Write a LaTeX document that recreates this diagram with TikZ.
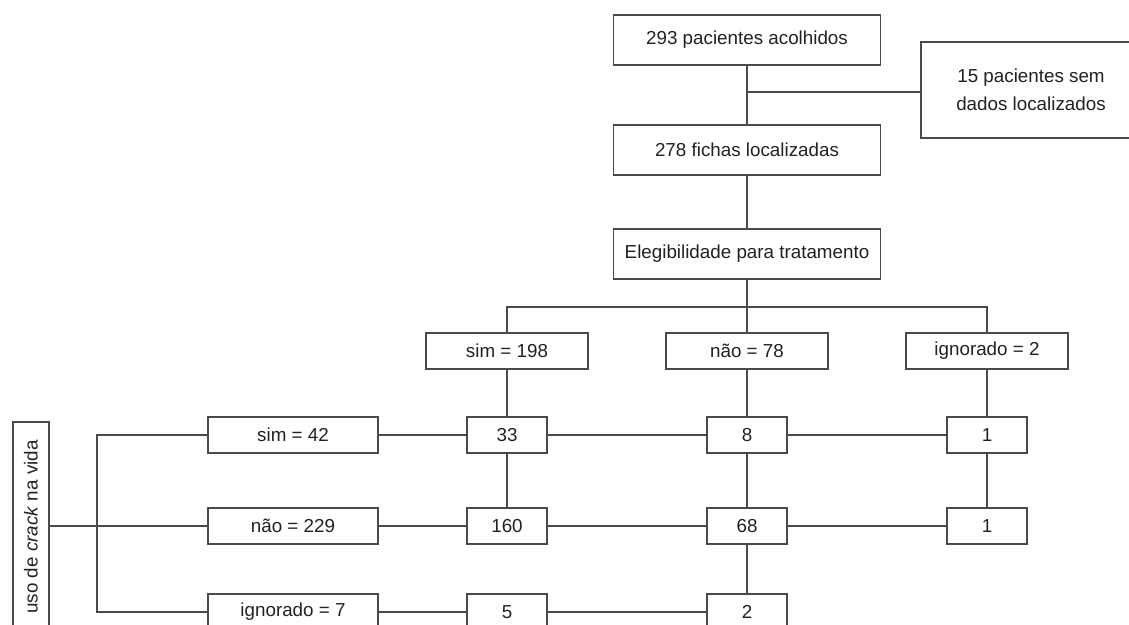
\documentclass[tikz,border=0pt]{standalone}
\usepackage{fontspec}
\setmainfont{Liberation Sans}
\usepackage{tikz}
\usetikzlibrary{positioning, calc}
\definecolor{LineGray}{HTML}{4A4A4A}
\definecolor{TextGray}{HTML}{222222}

\tikzset{
  flowbox/.style={draw=LineGray, line width=0.55pt, fill=white, inner sep=0pt,
                  text=TextGray, font=\fontsize{9.4}{11.5}\selectfont, align=center},
  mainbox/.style={flowbox, minimum width=133.5pt, minimum height=25pt},
  catbox/.style={flowbox, minimum width=81pt, minimum height=18pt},
  rowbox/.style={flowbox, minimum width=85pt, minimum height=18pt},
  numbox/.style={flowbox, minimum width=40pt, minimum height=18pt},
  link/.style={draw=LineGray, line width=0.55pt}
}

\begin{document}
\begin{tikzpicture}[x=0.5pt, y=-0.5pt]
    \useasboundingbox (0,0) rectangle (1129,625);
    \clip (0,0) rectangle (1129,625);

    % Top of the flow
    \node[mainbox] (acolhidos) at (747,40) {293 pacientes acolhidos};
    \node[flowbox, minimum width=110pt, minimum height=48pt,
          font=\fontsize{9.4}{14}\selectfont] (semdados) at (1031,90)
        {15 pacientes sem\\dados localizados};
    \node[mainbox] (fichas) at (747,150) {278 fichas localizadas};
    \node[mainbox] (elegib) at (747,254) {Elegibilidade para tratamento};

    % Eligibility categories
    \node[catbox] (elsim) at (507,351) {sim = 198};
    \node[catbox] (elnao) at (747,351) {não = 78};
    \node[catbox] (elign) at (987,351) {ignorado = 2};

    % Crack use categories
    \node[flowbox, minimum width=18pt, minimum height=105pt] (crack) at (31,527)
        {\rotatebox{90}{uso de \textit{crack} na vida}};
    \node[rowbox] (crsim) at (293,435) {sim = 42};
    \node[rowbox] (crnao) at (293,526) {não = 229};
    \node[rowbox] (crign) at (293,612) {ignorado = 7};

    % Cross counts
    \node[numbox] (simsim) at (507,435) {33};
    \node[numbox] (naosim) at (747,435) {8};
    \node[numbox] (ignsim) at (987,435) {1};
    \node[numbox] (simnao) at (507,526) {160};
    \node[numbox] (naonao) at (747,526) {68};
    \node[numbox] (ignnao) at (987,526) {1};
    \node[numbox] (simign) at (507,612) {5};
    \node[numbox] (naoign) at (747,612) {2};

    % Connectors, top part
    \draw[link] (acolhidos) -- (fichas) -- (elegib);
    \coordinate (exclui) at (747,92);
    \draw[link] (exclui) -- (exclui -| semdados.west);
    \coordinate (split) at (747,307);
    \draw[link] (elegib) -- (elnao);
    \draw[link] (elsim.north) |- (split) -| (elign.north);

    % Connectors, left part
    \coordinate (bartop) at (97,435);
    \coordinate (barbot) at (97,612);
    \draw[link] (crack.east |- crnao) -- (crnao.west);
    \draw[link] (crsim.west) -- (bartop) -- (barbot) -- (crign.west);

    % Grid rows and columns
    \draw[link] (crsim) -- (simsim) -- (naosim) -- (ignsim);
    \draw[link] (crnao) -- (simnao) -- (naonao) -- (ignnao);
    \draw[link] (crign) -- (simign) -- (naoign);
    \draw[link] (elsim) -- (simsim) -- (simnao);
    \draw[link] (elnao) -- (naosim) -- (naonao) -- (naoign);
    \draw[link] (elign) -- (ignsim) -- (ignnao);
\end{tikzpicture}
\end{document}
